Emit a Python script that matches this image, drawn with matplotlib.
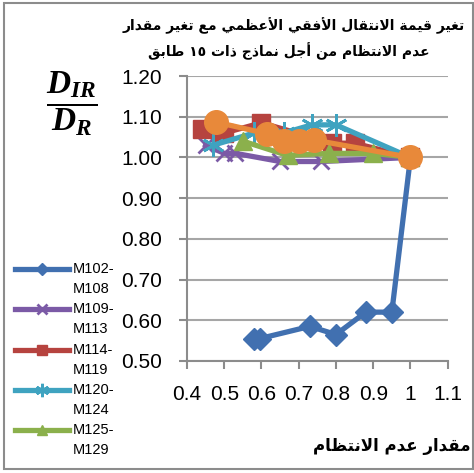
import matplotlib
matplotlib.use("Agg")
import matplotlib.pyplot as plt
from matplotlib.patches import Rectangle
from matplotlib.lines import Line2D

plt.rcParams['font.family'] = ['Liberation Sans', 'DejaVu Sans']
plt.rcParams['mathtext.fontset'] = 'custom'
plt.rcParams['mathtext.it'] = 'Liberation Serif:italic:bold'
plt.rcParams['mathtext.rm'] = 'Liberation Serif:bold'

# data
names = ['M102-\nM108', 'M109-\nM113', 'M114-\nM119', 'M120-\nM124', 'M125-\nM129', 'M130-\nM134']
x_m102 = [0.58, 0.595, 0.73, 0.80, 0.88, 0.95, 1.0]
y_m102 = [0.555, 0.555, 0.585, 0.565, 0.62, 0.62, 1.0]
x_m109 = [0.45, 0.50, 0.53, 0.65, 0.76, 1.0]
y_m109 = [1.03, 1.01, 1.01, 0.99, 0.99, 1.0]
x_m114 = [0.44, 0.50, 0.60, 0.79, 0.85, 1.0]
y_m114 = [1.07, 1.06, 1.085, 1.035, 1.035, 1.0]
x_m120 = [0.47, 0.58, 0.66, 0.735, 0.80, 1.0]
y_m120 = [1.03, 1.06, 1.06, 1.08, 1.08, 1.0]
x_m125 = [0.55, 0.67, 0.78, 0.90, 1.0]
y_m125 = [1.04, 1.005, 1.01, 1.01, 1.0]
x_m130 = [0.477, 0.616, 0.66, 0.70, 0.74, 1.0]
y_m130 = [1.087, 1.058, 1.041, 1.041, 1.043, 1.0]

xticks = [0.4, 0.5, 0.6, 0.7, 0.8, 0.9, 1.0, 1.1]
xticklabels = ['0.4', '0.5', '0.6', '0.7', '0.8', '0.9', '1', '1.1']
yticks = [0.5, 0.6, 0.7, 0.8, 0.9, 1.0, 1.1, 1.2]

title_lines = ['تغير قيمة الانتقال الأفقي الأعظمي مع تغير مقدار',
               'عدم الانتظام من أجل نماذج ذات ١٥ طابق']
xlabel = 'مقدار عدم الانتظام'

# matplotlib has no arabic shaping, so map letters to presentation forms
# (base code, 1 = joins right only, 2 = joins both sides)
AR = {'ء': (0xFE80, 0), 'آ': (0xFE81, 1), 'أ': (0xFE83, 1), 'ؤ': (0xFE85, 1),
      'إ': (0xFE87, 1), 'ئ': (0xFE89, 2), 'ا': (0xFE8D, 1), 'ب': (0xFE8F, 2),
      'ة': (0xFE93, 1), 'ت': (0xFE95, 2), 'ث': (0xFE99, 2), 'ج': (0xFE9D, 2),
      'ح': (0xFEA1, 2), 'خ': (0xFEA5, 2), 'د': (0xFEA9, 1), 'ذ': (0xFEAB, 1),
      'ر': (0xFEAD, 1), 'ز': (0xFEAF, 1), 'س': (0xFEB1, 2), 'ش': (0xFEB5, 2),
      'ص': (0xFEB9, 2), 'ض': (0xFEBD, 2), 'ط': (0xFEC1, 2), 'ظ': (0xFEC5, 2),
      'ع': (0xFEC9, 2), 'غ': (0xFECD, 2), 'ف': (0xFED1, 2), 'ق': (0xFED5, 2),
      'ك': (0xFED9, 2), 'ل': (0xFEDD, 2), 'م': (0xFEE1, 2), 'ن': (0xFEE5, 2),
      'ه': (0xFEE9, 2), 'و': (0xFEED, 1), 'ى': (0xFEEF, 1), 'ي': (0xFEF1, 2)}
LAMALEF = {'آ': 0xFEF5, 'أ': 0xFEF7, 'إ': 0xFEF9, 'ا': 0xFEFB}


def shape_word(w):
    out = []
    i = 0
    prev_join = False
    while i < len(w):
        c = w[i]
        if c not in AR:
            out.append(c)
            prev_join = False
            i += 1
            continue
        if c == 'ل' and i + 1 < len(w) and w[i + 1] in LAMALEF:
            out.append(chr(LAMALEF[w[i + 1]] + (1 if prev_join else 0)))
            prev_join = False
            i += 2
            continue
        base, kind = AR[c]
        nxt = i + 1 < len(w) and w[i + 1] in AR
        if kind == 2 and prev_join and nxt:
            f = 3
        elif prev_join and kind > 0:
            f = 1
        elif kind == 2 and nxt:
            f = 2
        else:
            f = 0
        out.append(chr(base + f))
        prev_join = kind == 2
        i += 1
    return ''.join(out)


def rtl(s):
    words = []
    for w in s.split(' '):
        if all(ch.isdigit() for ch in w):
            words.append(w)
        else:
            words.append(shape_word(w)[::-1])
    return ' '.join(words[::-1])


fig = plt.figure(figsize=(4.74, 4.73), dpi=100)
ax = fig.add_axes([187 / 474, 1 - 361 / 473, 260.7 / 474, 285 / 473])

series = [
    (x_m102, y_m102, '#4170B0', 'D', 11, 1),
    (x_m109, y_m109, '#7B5AA6', 'x', 11, 2),
    (x_m114, y_m114, '#B6433F', 's', 13, 1),
    (x_m120, y_m120, '#3FA3C0', (6, 2, 0), 16, 2),
    (x_m125, y_m125, '#8BB04C', '^', 13, 1),
    (x_m130, y_m130, '#E8893A', 'o', 17, 1),
]
for k, (xs, ys, col, mk, ms, mew) in enumerate(series):
    ax.plot(xs, ys, color=col, lw=3.8, marker=mk, ms=ms, mew=mew,
            mec=col, mfc=col, zorder=3 + k, clip_on=False)

ax.set_xlim(0.4, 1.1)
ax.set_ylim(0.5, 1.2)
ax.set_xticks(xticks)
ax.set_xticklabels(xticklabels)
ax.set_yticks(yticks)
ax.set_yticklabels(['%.2f' % v for v in yticks])
ax.grid(axis='y', color='#A6A6A6', lw=1.5)
ax.set_axisbelow(True)
for s in ['top', 'right']:
    ax.spines[s].set_visible(False)
for s in ['left', 'bottom']:
    ax.spines[s].set_color('#8C8C8C')
    ax.spines[s].set_linewidth(1.5)
ax.tick_params(axis='both', colors='#8C8C8C', width=1.5, length=6, labelsize=15,
               labelcolor='black')
ax.tick_params(axis='y', pad=12)
ax.tick_params(axis='x', pad=11)

# title, axis labels: (text, right edge px, centre y px, font size)
arabic = [(title_lines[0], 465, 26, 10),
          (title_lines[1], 430, 51, 10),
          (xlabel, 471, 446, 12)]
for txt, xr, yc, fs in arabic:
    fig.text(xr / 474, 1 - yc / 473, rtl(txt), ha='right', va='center',
             fontsize=fs, fontweight='bold', family=['DejaVu Sans'])

fig.text(72 / 474, 1 - 104 / 473, r'$\dfrac{D_{IR}}{D_R}$', ha='center', va='center',
         fontsize=24)

# legend drawn by hand so the key sits on the first label line
for k, (xs, ys, col, mk, ms, mew) in enumerate(series[:5]):
    yy = 1 - (269 + 40.3 * k) / 473
    fig.add_artist(Line2D([15 / 474, 69 / 474], [yy, yy], color=col, lw=3.8,
                          transform=fig.transFigure))
    fig.add_artist(Line2D([42 / 474], [yy], color=col, marker=mk, ms=ms * 0.6,
                          mew=mew, mec=col, mfc=col, transform=fig.transFigure))
    top, bot = names[k].split('\n')
    fig.text(73 / 474, yy, top, ha='left', va='center', fontsize=10.5)
    fig.text(73 / 474, yy - 20 / 473, bot, ha='left', va='center', fontsize=10.5)

fig.add_artist(Rectangle((4 / 474, 1 - 469 / 473), 469 / 474, 466 / 473,
                         transform=fig.transFigure, fill=False, ec='#8C8C8C', lw=1.5))

fig.savefig('out.png', dpi=100)
